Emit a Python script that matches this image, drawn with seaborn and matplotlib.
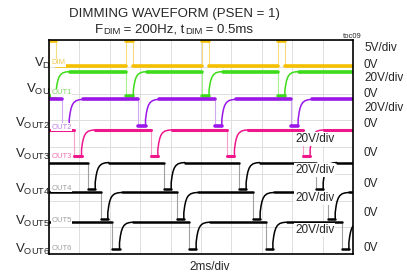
import numpy as np
import pandas as pd
import matplotlib
matplotlib.use("Agg")
import matplotlib.pyplot as plt
import seaborn as sns

# Scope screen: 2 ms/div x 10 div, 8 vertical divisions
t_min, t_max = 0.0, 20.0
n_ydiv = 8

# DIM input (yellow) - pulse start times in ms, levels in divisions from bottom
dim_starts = [0.0, 5.08, 10.06, 15.05]
dim_width = 0.47
dim_low, dim_high = 7.03, 7.96

# Output channels - falling edge times (ms)
out1_falls = [0.0, 5.08, 10.06, 15.05]
out2_falls = [0.86, 5.88, 10.90, 15.92]
out3_falls = [1.67, 6.69, 11.73, 16.71]
out4_falls = [2.57, 7.57, 12.50, 17.57]
out5_falls = [3.40, 8.40, 13.42, 18.36]
out6_falls = [4.17, 9.21, 14.26, 19.26]
out_high = [6.82, 5.78, 4.64, 3.42, 2.30, 1.19]
out_low = [5.89, 4.77, 3.66, 2.43, 1.30, 0.18]
low_time = 0.47

# recovery after the low window (ms after release, fraction of swing)
rec_dt = [0.0, 0.0, 0.06, 0.12, 0.2, 0.3, 0.45, 0.65, 0.9]
rec_frac = [0.0, 0.25, 0.5, 0.66, 0.79, 0.88, 0.95, 0.985, 1.0]

out_colors = ["#3ddc1a", "#9b16e8", "#f0168c", "black", "black", "black"]
out_edge_colors = ["#a8f090", "#d4a8f0", "#f6a0c8", "#a0a0a0", "#a0a0a0", "#a0a0a0"]
out_label_colors = ["#80d860", "#c080e0", "#f070b0", "#a0a0a0", "#a0a0a0", "#a0a0a0"]
dim_color, dim_edge = "#f5c000", "#f8dc80"


def build_output(falls, hi, lo):
    rows = []
    seg = 0
    t_cur = t_min
    for f in falls:
        if f > t_cur:
            rows += [("lvl", seg, t_cur, hi), ("lvl", seg, f, hi)]
            seg += 1
        rows += [("edge", seg, f, hi), ("edge", seg, f, lo)]
        seg += 1
        e = f + low_time
        rows += [("lvl", seg, f, lo), ("lvl", seg, e, lo)]
        seg += 1
        for dt, fr in zip(rec_dt, rec_frac):
            rows.append(("curve", seg, e + dt, lo + fr * (hi - lo)))
        seg += 1
        t_cur = e + rec_dt[-1]
    if t_cur < t_max:
        rows += [("lvl", seg, t_cur, hi), ("lvl", seg, t_max, hi)]
    return pd.DataFrame(rows, columns=["kind", "seg", "t", "v"])


def build_dim():
    rows = []
    seg = 0
    t_cur = t_min
    for s in dim_starts:
        if s > t_cur:
            rows += [("lvl", seg, t_cur, dim_low), ("lvl", seg, s, dim_low)]
            seg += 1
        e = s + dim_width
        rows += [("edge", seg, s, dim_low), ("edge", seg, s, dim_high)]
        seg += 1
        rows += [("lvl", seg, s, dim_high), ("lvl", seg, e, dim_high)]
        seg += 1
        rows += [("edge", seg, e, dim_high), ("edge", seg, e, dim_low)]
        seg += 1
        t_cur = e
    rows += [("lvl", seg, t_cur, dim_low), ("lvl", seg, t_max, dim_low)]
    return pd.DataFrame(rows, columns=["kind", "seg", "t", "v"])


def draw(df, color, edge_color, lw_lvl, ax):
    for kind, c, lw in [("edge", edge_color, 0.8), ("curve", color, 1.1), ("lvl", color, lw_lvl)]:
        sub = df[df["kind"] == kind]
        if len(sub) == 0:
            continue
        sns.lineplot(data=sub, x="t", y="v", units="seg", estimator=None, sort=False,
                     color=c, lw=lw, ax=ax, legend=False)


sns.set_style("white")
plt.rcParams["font.family"] = ["Liberation Sans", "DejaVu Sans"]

W, H = 407, 277
fig = plt.figure(figsize=(W / 100, H / 100), dpi=100)
ax = fig.add_axes([49 / W, 1 - 254 / H, 304 / W, 214 / H])


def fx(x):
    return x / W


def fy(y):
    return 1 - y / H


all_falls = [out1_falls, out2_falls, out3_falls, out4_falls, out5_falls, out6_falls]
lw_lvls = [2.6, 2.6, 2.2, 1.8, 1.8, 1.8]
for i in range(6):
    df = build_output(all_falls[i], out_high[i], out_low[i])
    draw(df, out_colors[i], out_edge_colors[i], lw_lvls[i], ax)
draw(build_dim(), dim_color, dim_edge, 2.6, ax)

ax.set_xlim(t_min, t_max)
ax.set_ylim(0, n_ydiv)
ax.set_xticks(np.arange(t_min, t_max + 0.1, 2))
ax.set_yticks(np.arange(0, n_ydiv + 1, 1))
ax.set_xticklabels([])
ax.set_yticklabels([])
ax.tick_params(length=0)
ax.grid(True, color="#dedede", lw=0.7)
ax.set_axisbelow(True)
ax.set_xlabel("")
ax.set_ylabel("")
for sp in ax.spines.values():
    sp.set_color("black")
    sp.set_linewidth(1.2)

# small channel tags inside the screen
tags = ["DIM", "OUT1", "OUT2", "OUT3", "OUT4", "OUT5", "OUT6"]
tag_y = [63, 93, 127, 156, 188, 220, 248]
tag_colors = ["#f0c850"] + out_label_colors
for txt, y, c in zip(tags, tag_y, tag_colors):
    ax.text(fx(51.5), fy(y), txt, transform=fig.transFigure, fontsize=5.5, color=c,
            ha="left", va="center", zorder=4,
            bbox=dict(boxstyle="square,pad=0.05", fc="white", ec="none"))

# scale labels inside the screen
for y in [139, 170, 198, 230]:
    ax.text(fx(295), fy(y), "20V/div", transform=fig.transFigure, fontsize=8.5,
            ha="left", va="center", zorder=5,
            bbox=dict(boxstyle="square,pad=0.05", fc="white", ec="none"))

# scale labels on the right
right_labels = [("5V/div", 48), ("0V", 65), ("20V/div", 78), ("0V", 94),
                ("20V/div", 108), ("0V", 124), ("0V", 153), ("0V", 184),
                ("0V", 213), ("0V", 248)]
for txt, y in right_labels:
    fig.text(fx(364), fy(y), txt, fontsize=8.5, ha="left", va="center")

# channel names on the left (the first two are cut off by the screen)
left_labels = [("V$_{\\mathregular{D}}$", 33.5, 63), ("V$_{\\mathregular{OU}}$", 26.5, 89),
               ("V$_{\\mathregular{OUT2}}$", 15, 123), ("V$_{\\mathregular{OUT3}}$", 15, 154),
               ("V$_{\\mathregular{OUT4}}$", 15, 189), ("V$_{\\mathregular{OUT5}}$", 15, 221),
               ("V$_{\\mathregular{OUT6}}$", 15, 249)]
for txt, x, y in left_labels:
    fig.text(fx(x), fy(y), txt, fontsize=9.5, ha="left", va="center", zorder=-1)

# title
fig.text(fx(174.5), fy(14), "DIMMING WAVEFORM (PSEN = 1)", fontsize=9.5,
         ha="center", va="center")
pieces = [("F", 9.5), ("DIM", 6.8), (" = 200Hz, t", 9.5), ("DIM", 6.8), (" = 0.5ms", 9.5)]
prev = fig.text(fx(95), fy(33), pieces[0][0], fontsize=pieces[0][1], ha="left", va="baseline")
for txt, fs in pieces[1:]:
    prev = ax.annotate(txt, xy=(1, 0), xycoords=prev, fontsize=fs, ha="left", va="bottom")

fig.text(fx(210), fy(267), "2ms/div", fontsize=8.5, ha="center", va="center")
fig.text(fx(343), fy(37), "toc09", fontsize=5.5, ha="left", va="center")

fig.savefig("out.png", dpi=100)
